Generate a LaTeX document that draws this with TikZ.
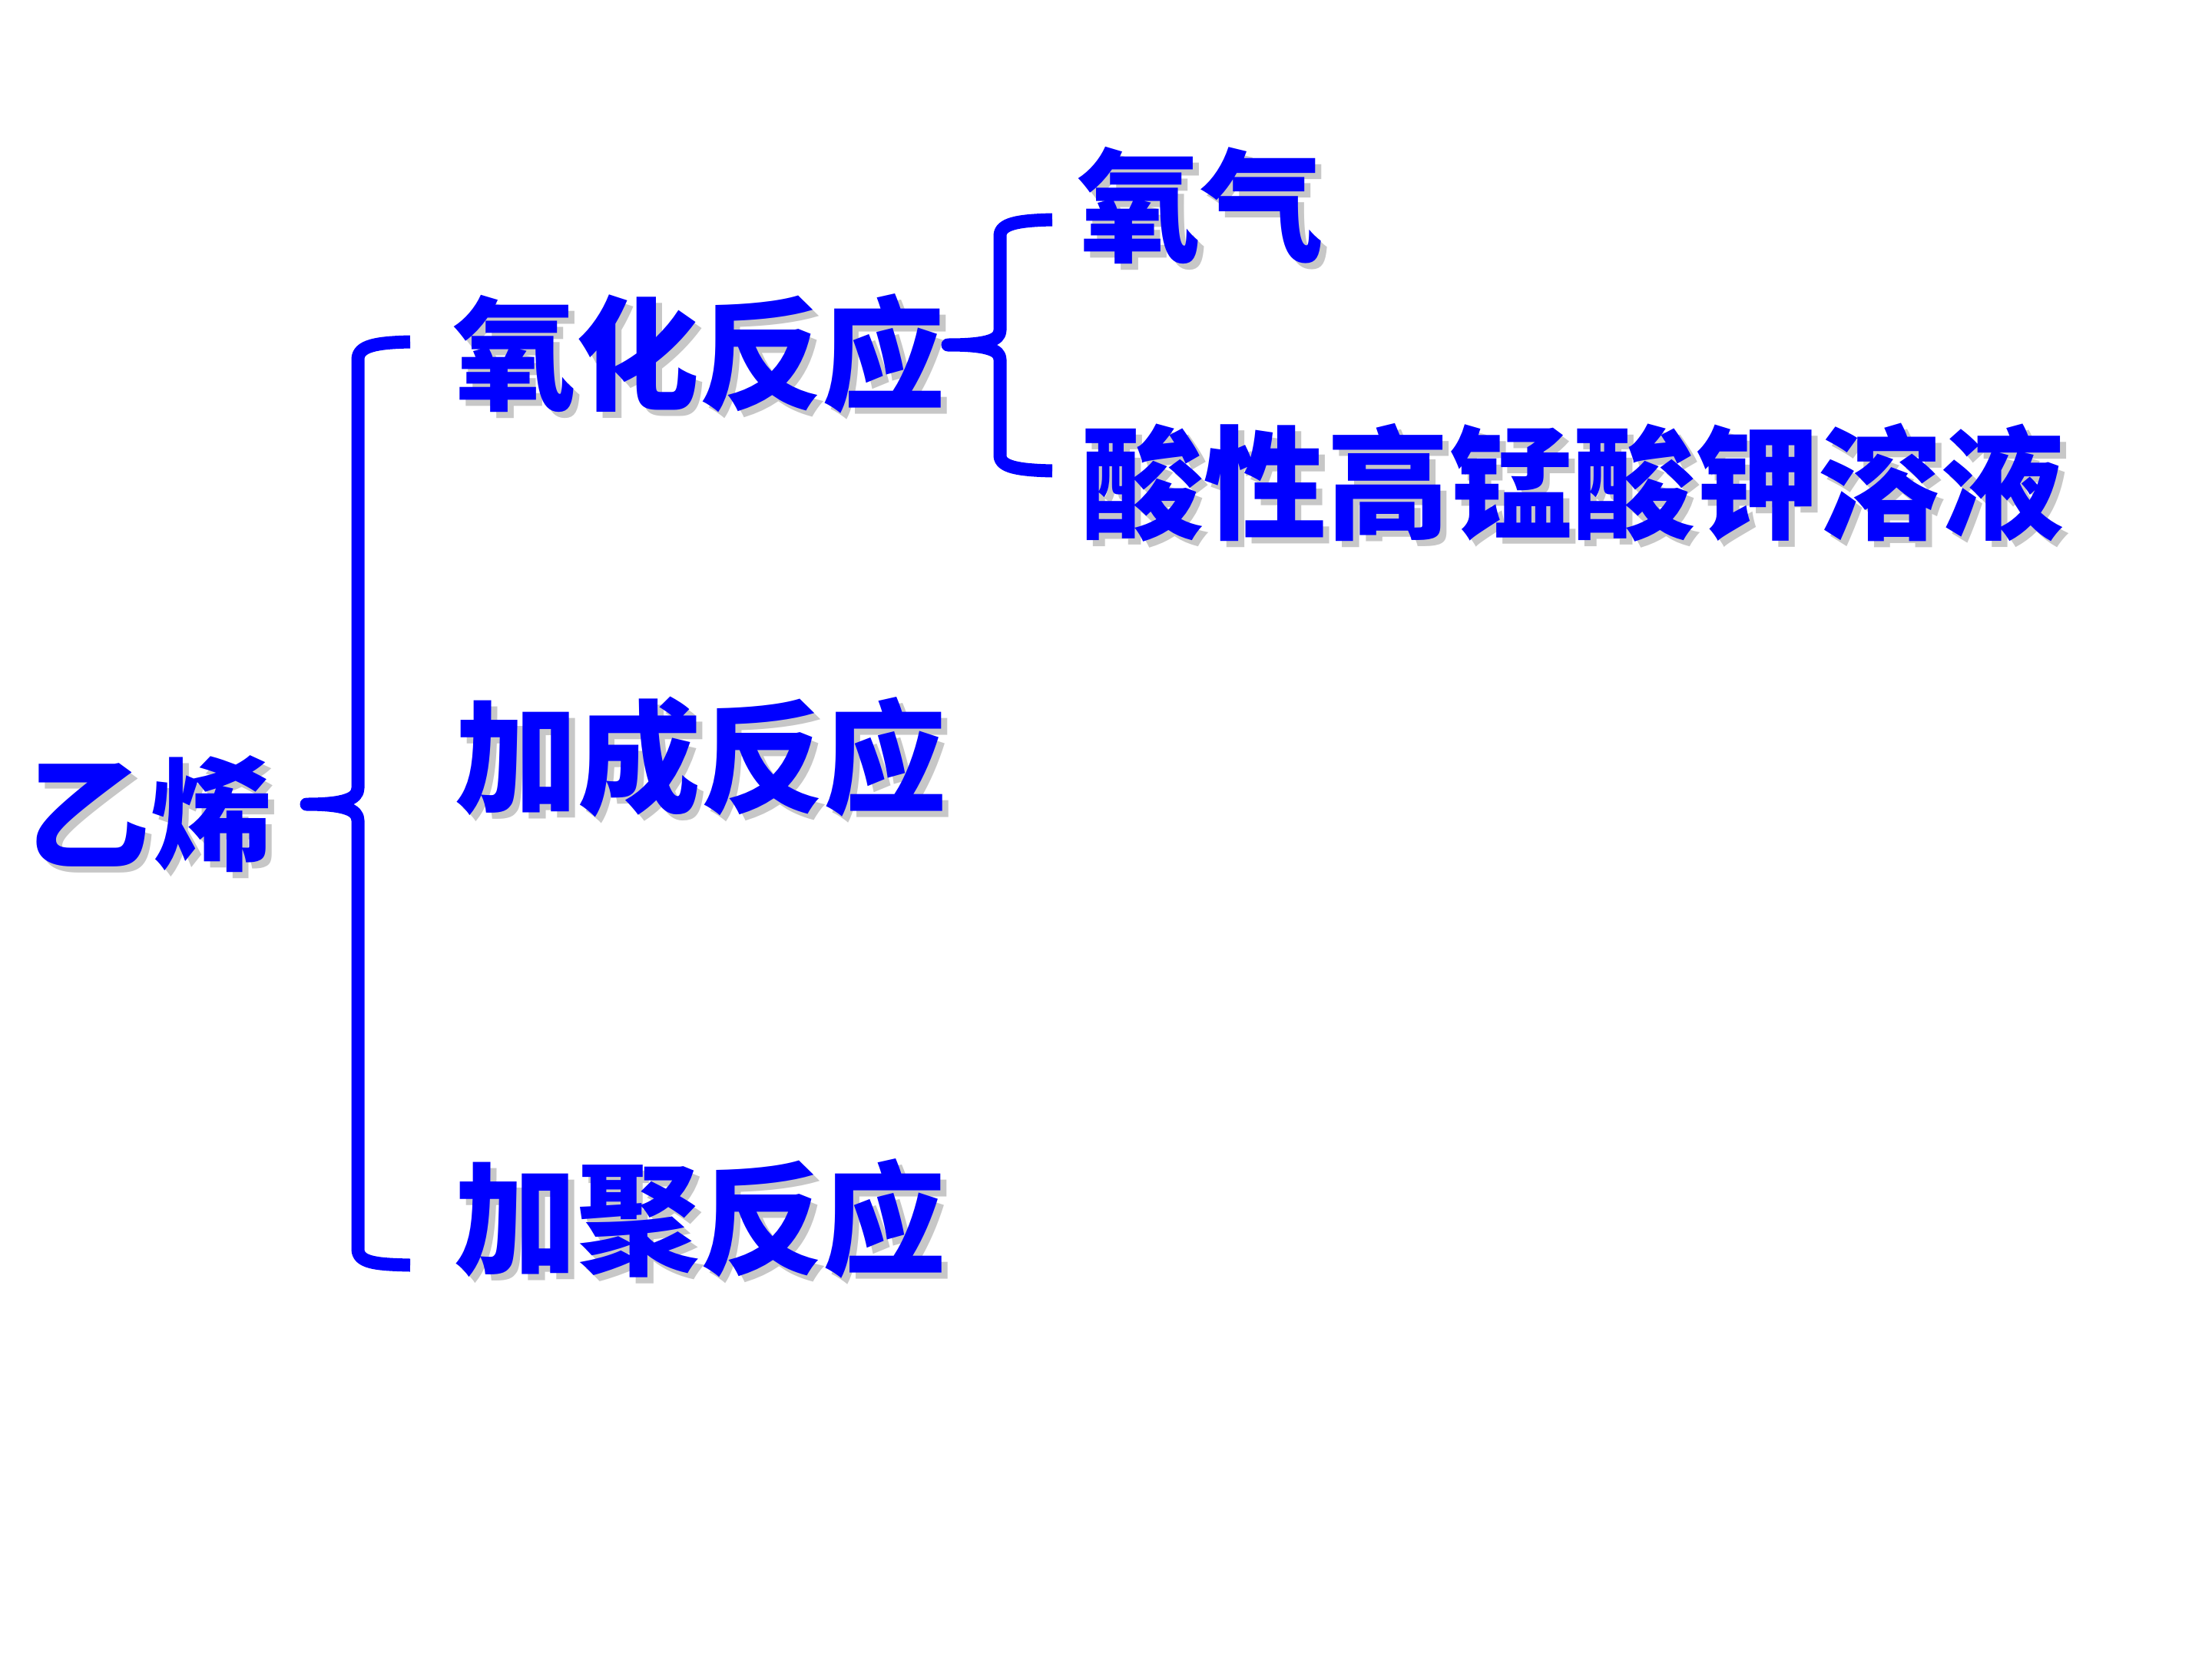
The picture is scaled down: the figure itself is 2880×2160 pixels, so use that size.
\documentclass[tikz,border=0pt]{standalone}
\usepackage{fontspec}
\newfontfamily\cjk{Noto Sans CJK SC}
\definecolor{pblue}{RGB}{0,0,255}
\newcommand\shd[1]{\makebox[0pt][l]{\kern8pt\raisebox{-8pt}{\color{black!22}#1}}#1}
\begin{document}
\begin{tikzpicture}[x=1pt,y=-1pt,
  lbl/.style={text=pblue, font=\cjk\bfseries\fontsize{160}{192}\selectfont, inner sep=0pt, anchor=base west},
  brace/.style={draw=pblue, line width=17pt, line cap=butt, line join=round}]
\fill[white] (0,0) rectangle (2880,2160);
\useasboundingbox (0,0) rectangle (2880,2160);
% labels
\node[lbl] (yixi)  at (35,1120)  {\shd{乙烯}};
\node[lbl] (yh)    at (590,521)  {\shd{氧化反应}};
\node[lbl] (jc)    at (592,1046) {\shd{加成反应}};
\node[lbl] (jj)    at (591,1647) {\shd{加聚反应}};
\node[lbl] (oq)    at (1403,328) {\shd{氧气}};
\node[lbl] (kmno)  at (1407,689) {\shd{酸性高锰酸钾溶液}};
% big brace
\coordinate (Ba) at (534,445);
\coordinate (Bt) at (399,1047);
\coordinate (Bb) at (534,1647);
\draw[brace] (Ba) .. controls (490,446) and (466,450) .. (466,468) -- (466,1026)
  .. controls (466,1040) and (448,1047) .. (Bt)
  .. controls (448,1047) and (466,1054) .. (466,1068) -- (466,1626)
  .. controls (466,1644) and (490,1646) .. (Bb);
% small brace
\coordinate (Sa) at (1370,286);
\coordinate (St) at (1234,449);
\coordinate (Sb) at (1370,613);
\draw[brace] (Sa) .. controls (1326,287) and (1302,291) .. (1302,307) -- (1302,430)
  .. controls (1302,443) and (1284,449) .. (St)
  .. controls (1284,449) and (1302,455) .. (1302,468) -- (1302,593)
  .. controls (1302,608) and (1326,612) .. (Sb);
\end{tikzpicture}
\end{document}
